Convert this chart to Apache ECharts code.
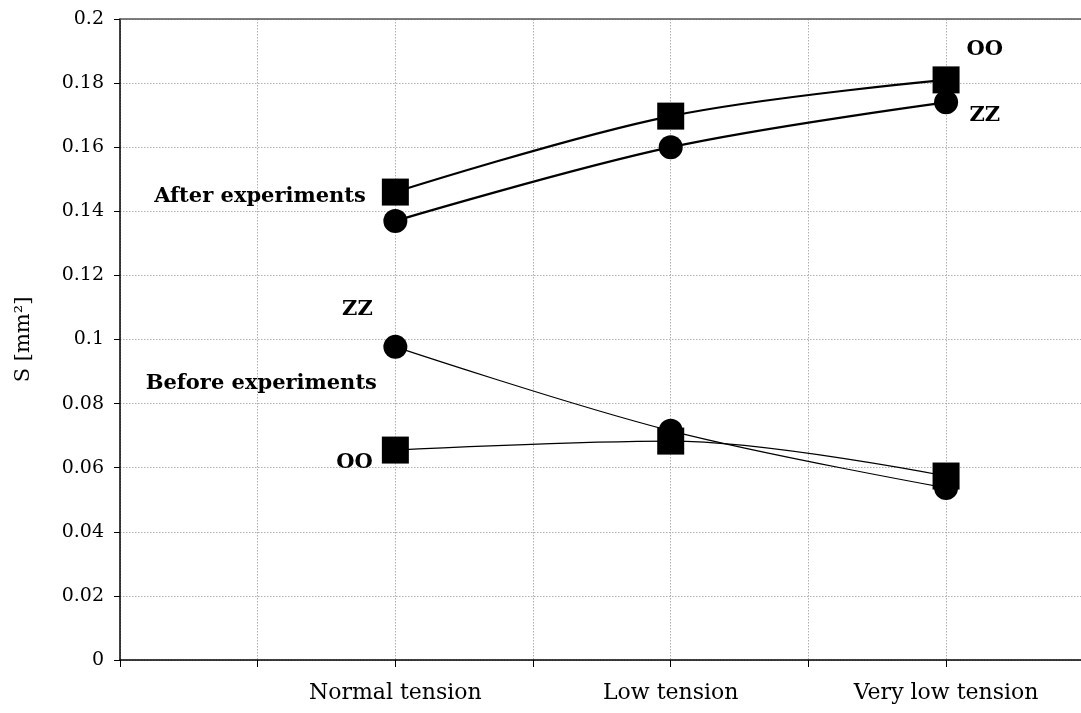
<!DOCTYPE html>
<html>
<head>
<meta charset="utf-8">
<script src="https://cdn.jsdelivr.net/npm/echarts@6/dist/echarts.min.js"></script>
<style>html,body{margin:0;padding:0;background:#fff;}#chart{width:1081px;height:713px;}</style>
</head>
<body>
<div id="chart"></div>
<script>
// Categories placed at positions 1, 2, 3 on the x value axis
const categories = ['Normal tension', 'Low tension', 'Very low tension'];
const categoryPos = [1, 2, 3];
const yTicks = [0, 0.02, 0.04, 0.06, 0.08, 0.1, 0.12, 0.14, 0.16, 0.18, 0.2];

const afterOO = [0.146, 0.1697, 0.181];
const afterZZ = [0.137, 0.160, 0.174];
const beforeZZ = [0.0977, 0.0715, 0.0537];
const beforeOO = [0.0655, 0.0683, 0.0574];

// Annotation texts with anchor in data coords
const annotations = [
  {text: 'After experiments', x: 0.893, y: 0.1445, align: 'right'},
  {text: 'Before experiments', x: 0.933, y: 0.0864, align: 'right'},
  {text: 'ZZ', x: 0.918, y: 0.1092, align: 'right'},
  {text: 'OO', x: 0.918, y: 0.0615, align: 'right'},
  {text: 'OO', x: 3.074, y: 0.1906, align: 'left'},
  {text: 'ZZ', x: 3.085, y: 0.170, align: 'left'}
];

const FONT = 'DejaVu Serif';
const pair = arr => arr.map((v, i) => [categoryPos[i], v]);

const chart = echarts.init(document.getElementById('chart'));

function mkSeries(name, data, symbol, size, width) {
  return {
    name, type: 'line', data: pair(data), smooth: 0.35,
    symbol, symbolSize: size,
    lineStyle: {color: '#000', width},
    itemStyle: {color: '#000'},
    z: 3
  };
}

const option = {
  animation: false,
  backgroundColor: '#fff',
  grid: {left: 120, right: 0, top: 19, bottom: 53, containLabel: false},
  xAxis: [{
    type: 'value', min: 0, max: 3.49, interval: 0.5,
    axisLine: {show: true, lineStyle: {color: '#000', width: 1.5}},
    axisTick: {show: true, length: 7, lineStyle: {color: '#000'}},
    splitLine: {show: true, lineStyle: {color: '#b0b0b0', type: [1.5, 1.5], width: 1}},
    axisLabel: {
      margin: 22, fontFamily: FONT, fontSize: 22, color: '#000',
      showMaxLabel: false,
      formatter: v => { const i = categoryPos.indexOf(Math.round(v * 100) / 100); return i >= 0 ? categories[i] : ''; }
    }
  }, {
    type: 'value', position: 'top', min: 0, max: 3.49, interval: 0.5,
    axisLine: {show: true, lineStyle: {color: '#555', width: 1.5}},
    axisTick: {show: false}, axisLabel: {show: false}, splitLine: {show: false}
  }],
  yAxis: {
    type: 'value', min: yTicks[0], max: yTicks[yTicks.length - 1], interval: 0.02,
    name: 'S [mm²]', nameLocation: 'middle', nameGap: 86, nameRotate: 90,
    nameTextStyle: {fontFamily: FONT, fontSize: 21, color: '#000'},
    axisLine: {show: true, lineStyle: {color: '#000', width: 1.5}},
    axisTick: {show: true, length: 6, lineStyle: {color: '#000'}},
    splitLine: {show: true, lineStyle: {color: '#b0b0b0', type: [1.5, 1.5], width: 1}},
    axisLabel: {margin: 16, fontFamily: FONT, fontSize: 19, color: '#000',
      formatter: v => String(+v.toFixed(2))}
  },
  series: [
    mkSeries('After OO', afterOO, 'rect', 27, 2.2),
    mkSeries('After ZZ', afterZZ, 'circle', 24, 2.2),
    mkSeries('Before ZZ', beforeZZ, 'circle', 24, 1.2),
    mkSeries('Before OO', beforeOO, 'rect', 27, 1.2)
  ]
};
chart.setOption(option);

const graphics = annotations.map(a => {
  const p = chart.convertToPixel({xAxisIndex: 0, yAxisIndex: 0}, [a.x, a.y]);
  return {
    type: 'text', x: p[0], y: p[1], z: 10,
    style: {text: a.text, fontFamily: FONT, fontWeight: 'bold', fontSize: 21,
      fill: '#000', align: a.align, verticalAlign: 'middle'}
  };
});
chart.setOption({graphic: graphics});
</script>
</body>
</html>
